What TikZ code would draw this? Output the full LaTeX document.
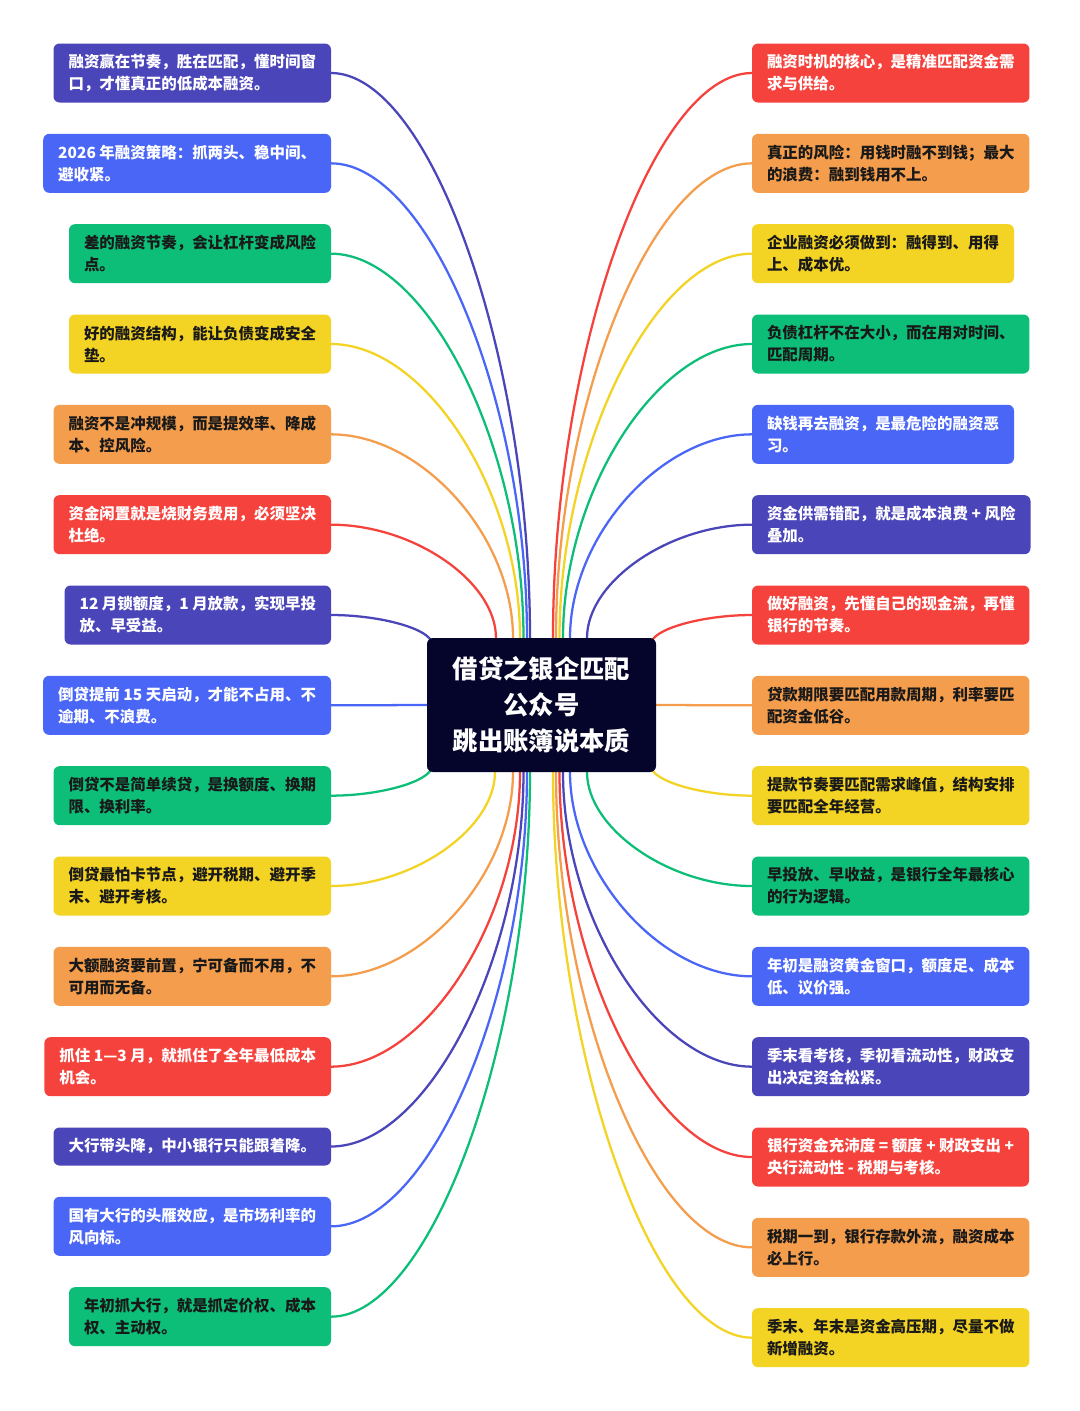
\documentclass[tikz,border=0pt]{standalone}
\usepackage{fontspec}
\setmainfont{Noto Sans CJK SC}
\usepackage{xcolor}
\usetikzlibrary{positioning, calc, backgrounds}

\definecolor{cIndigo}{HTML}{4B45BA}
\definecolor{cBlue}{HTML}{4A66F6}
\definecolor{cGreen}{HTML}{0CBE78}
\definecolor{cYellow}{HTML}{F3D323}
\definecolor{cOrange}{HTML}{F49D4C}
\definecolor{cRed}{HTML}{F5423C}
\definecolor{cNavy}{HTML}{05042A}

% curved branch: leaves the card sideways, reaches the hub upright
\newcommand{\curvelink}[3]{%
  \path (#2) coordinate (s) (#3) coordinate (e);
  \draw[link, draw=#1] (s) .. controls ($(s)!.5!(s-|e)$) and ($(e)!.5!(s-|e)$) .. (e);}

\begin{document}
\begin{tikzpicture}[
  x=0.75pt, y=-0.75pt,
  node distance=23.5pt,
  font=\fontsize{11.6pt}{16.5pt}\selectfont\bfseries,
  card/.style={rectangle, rounded corners=4.5pt, align=left, outer sep=0pt,
               inner xsep=11.25pt, inner ysep=4pt, minimum height=44.25pt},
  light/.style={card, fill=#1, text=white},
  dark/.style={card, fill=#1, text=black!90},
  hub/.style={rectangle, rounded corners=4.5pt, fill=cNavy, text=white,
              align=center, minimum width=171.75pt, minimum height=100.5pt,
              outer sep=0pt, font=\fontsize{19pt}{27pt}\selectfont\bfseries},
  link/.style={line width=1.7pt}
]
\useasboundingbox (0,0) rectangle (1080,1411);

\node[hub] (hub) at (541.5,705) {借贷之银企匹配\\公众号\\跳出账簿说本质};

% left column
\node[light=cIndigo, anchor=east] (L1) at (331,73) {融资赢在节奏，胜在匹配，懂时间窗\\口，才懂真正的低成本融资。};
\node[light=cBlue, below=of L1.south east, anchor=north east] (L2) {2026 年融资策略：抓两头、稳中间、\\避收紧。};
\node[dark=cGreen, below=of L2.south east, anchor=north east] (L3) {差的融资节奏，会让杠杆变成风险\\点。};
\node[dark=cYellow, below=of L3.south east, anchor=north east] (L4) {好的融资结构，能让负债变成安全\\垫。};
\node[dark=cOrange, below=of L4.south east, anchor=north east] (L5) {融资不是冲规模，而是提效率、降成\\本、控风险。};
\node[light=cRed, below=of L5.south east, anchor=north east] (L6) {资金闲置就是烧财务费用，必须坚决\\杜绝。};
\node[light=cIndigo, below=of L6.south east, anchor=north east] (L7) {12 月锁额度，1 月放款，实现早投\\放、早受益。};
\node[light=cBlue, below=of L7.south east, anchor=north east] (L8) {倒贷提前 15 天启动，才能不占用、不\\逾期、不浪费。};
\node[dark=cGreen, below=of L8.south east, anchor=north east] (L9) {倒贷不是简单续贷，是换额度、换期\\限、换利率。};
\node[dark=cYellow, below=of L9.south east, anchor=north east] (L10) {倒贷最怕卡节点，避开税期、避开季\\末、避开考核。};
\node[dark=cOrange, below=of L10.south east, anchor=north east] (L11) {大额融资要前置，宁可备而不用，不\\可用而无备。};
\node[light=cRed, below=of L11.south east, anchor=north east] (L12) {抓住 1—3 月，就抓住了全年最低成本\\机会。};
\node[light=cIndigo, minimum height=28.5pt, below=of L12.south east, anchor=north east] (L13) {大行带头降，中小银行只能跟着降。};
\node[light=cBlue, below=of L13.south east, anchor=north east] (L14) {国有大行的头雁效应，是市场利率的\\风向标。};
\node[dark=cGreen, below=of L14.south east, anchor=north east] (L15) {年初抓大行，就是抓定价权、成本\\权、主动权。};

% right column
\node[light=cRed, anchor=west] (R1) at (752,73) {融资时机的核心，是精准匹配资金需\\求与供给。};
\node[dark=cOrange, below=of R1.south west, anchor=north west] (R2) {真正的风险：用钱时融不到钱；最大\\的浪费：融到钱用不上。};
\node[dark=cYellow, below=of R2.south west, anchor=north west] (R3) {企业融资必须做到：融得到、用得\\上、成本优。};
\node[dark=cGreen, below=of R3.south west, anchor=north west] (R4) {负债杠杆不在大小，而在用对时间、\\匹配周期。};
\node[light=cBlue, below=of R4.south west, anchor=north west] (R5) {缺钱再去融资，是最危险的融资恶\\习。};
\node[light=cIndigo, below=of R5.south west, anchor=north west] (R6) {资金供需错配，就是成本浪费 + 风险\\叠加。};
\node[light=cRed, below=of R6.south west, anchor=north west] (R7) {做好融资，先懂自己的现金流，再懂\\银行的节奏。};
\node[dark=cOrange, below=of R7.south west, anchor=north west] (R8) {贷款期限要匹配用款周期，利率要匹\\配资金低谷。};
\node[dark=cYellow, below=of R8.south west, anchor=north west] (R9) {提款节奏要匹配需求峰值，结构安排\\要匹配全年经营。};
\node[dark=cGreen, below=of R9.south west, anchor=north west] (R10) {早投放、早收益，是银行全年最核心\\的行为逻辑。};
\node[light=cBlue, below=of R10.south west, anchor=north west] (R11) {年初是融资黄金窗口，额度足、成本\\低、议价强。};
\node[light=cIndigo, below=of R11.south west, anchor=north west] (R12) {季末看考核，季初看流动性，财政支\\出决定资金松紧。};
\node[light=cRed, below=of R12.south west, anchor=north west] (R13) {银行资金充沛度 = 额度 + 财政支出 +\\央行流动性 - 税期与考核。};
\node[dark=cOrange, below=of R13.south west, anchor=north west] (R14) {税期一到，银行存款外流，融资成本\\必上行。};
\node[dark=cYellow, below=of R14.south west, anchor=north west] (R15) {季末、年末是资金高压期，尽量不做\\新增融资。};

\begin{scope}[on background layer]
\fill[white] (0,0) rectangle (1080,1411);
% left branches
\curvelink{cIndigo}{L1.east}{$(hub.north)+(-11.5,0)$}
\curvelink{cBlue}{L2.east}{$(hub.north)+(-14.5,0)$}
\curvelink{cGreen}{L3.east}{$(hub.north)+(-18,0)$}
\curvelink{cYellow}{L4.east}{$(hub.north)+(-21.5,0)$}
\curvelink{cOrange}{L5.east}{$(hub.north)+(-28.5,0)$}
\curvelink{cRed}{L6.east}{$(hub.north)+(-45.5,0)$}
\curvelink{cIndigo}{L7.east}{$(hub.north west)+(5,6)$}
\draw[link, draw=cBlue] (L8.east) -- (hub.west);
\curvelink{cGreen}{L9.east}{$(hub.south west)+(5,-6)$}
\curvelink{cYellow}{L10.east}{$(hub.south)+(-46.5,0)$}
\curvelink{cOrange}{L11.east}{$(hub.south)+(-28.5,0)$}
\curvelink{cRed}{L12.east}{$(hub.south)+(-21.5,0)$}
\curvelink{cIndigo}{L13.east}{$(hub.south)+(-18,0)$}
\curvelink{cBlue}{L14.east}{$(hub.south)+(-14.5,0)$}
\curvelink{cGreen}{L15.east}{$(hub.south)+(-11.5,0)$}
% right branches
\curvelink{cRed}{R1.west}{$(hub.north)+(11.5,0)$}
\curvelink{cOrange}{R2.west}{$(hub.north)+(14.5,0)$}
\curvelink{cYellow}{R3.west}{$(hub.north)+(18,0)$}
\curvelink{cGreen}{R4.west}{$(hub.north)+(21.5,0)$}
\curvelink{cBlue}{R5.west}{$(hub.north)+(28.5,0)$}
\curvelink{cIndigo}{R6.west}{$(hub.north)+(45.5,0)$}
\curvelink{cRed}{R7.west}{$(hub.north east)+(-5,6)$}
\draw[link, draw=cOrange] (hub.east) -- (R8.west);
\curvelink{cYellow}{R9.west}{$(hub.south east)+(-5,-6)$}
\curvelink{cGreen}{R10.west}{$(hub.south)+(45.5,0)$}
\curvelink{cBlue}{R11.west}{$(hub.south)+(28.5,0)$}
\curvelink{cIndigo}{R12.west}{$(hub.south)+(21.5,0)$}
\curvelink{cRed}{R13.west}{$(hub.south)+(18,0)$}
\curvelink{cOrange}{R14.west}{$(hub.south)+(14.5,0)$}
\curvelink{cYellow}{R15.west}{$(hub.south)+(11.5,0)$}
\end{scope}
\end{tikzpicture}
\end{document}
